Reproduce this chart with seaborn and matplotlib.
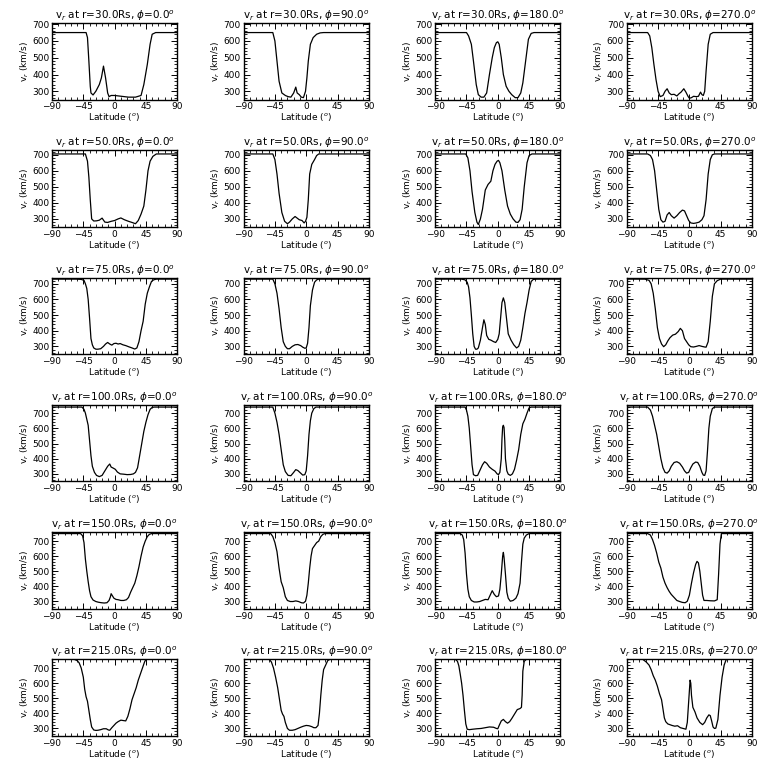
import numpy as np
import pandas as pd
import matplotlib
matplotlib.use('Agg')
import matplotlib.pyplot as plt
from matplotlib.ticker import MultipleLocator
import seaborn as sns

# ====================== DATA ======================
radii = [30.0, 50.0, 75.0, 100.0, 150.0, 215.0]
phis = [0.0, 90.0, 180.0, 270.0]
ytops = [707, 728, 740, 755, 760, 758]   # upper y limit of each row
ybottom = 250

# r = 30 Rs
lat_30_0 = [-90, -41, -39, -37, -35, -34, -31, -27, -22, -19, -16, -13, -10, -8, -5, 0, 10, 20, 30, 38, 42, 47, 51, 54, 59, 90]
v_30_0 = [650, 650, 620, 480, 330, 290, 278, 300, 340, 380, 450, 380, 290, 268, 275, 275, 270, 265, 265, 275, 340, 460, 580, 640, 650, 650]
lat_30_90 = [-90, -48, -45, -42, -39, -35, -30, -26, -22, -18, -15, -13, -10, -7, -4, -1, 1, 3, 6, 10, 15, 20, 25, 90]
v_30_90 = [650, 650, 600, 480, 360, 290, 275, 268, 265, 290, 325, 290, 280, 265, 262, 300, 380, 480, 580, 620, 640, 648, 650, 650]
lat_30_180 = [-90, -45, -42, -38, -35, -31, -28, -24, -20, -16, -12, -8, -5, -2, 0, 2, 5, 8, 12, 16, 20, 25, 29, 33, 36, 40, 44, 48, 52, 90]
v_30_180 = [650, 650, 630, 580, 480, 340, 280, 265, 265, 290, 400, 500, 560, 590, 595, 580, 500, 400, 330, 300, 280, 262, 262, 290, 350, 480, 610, 645, 650, 650]
lat_30_270 = [-90, -60, -57, -54, -51, -48, -45, -42, -38, -35, -32, -29, -26, -22, -18, -15, -12, -8, -5, -2, 0, 3, 6, 10, 13, 16, 18, 20, 22, 24, 27, 30, 34, 90]
v_30_270 = [650, 650, 630, 560, 460, 370, 300, 268, 275, 300, 315, 290, 280, 282, 272, 285, 295, 315, 295, 270, 258, 262, 270, 268, 270, 295, 280, 275, 300, 420, 580, 640, 650, 650]

# r = 50 Rs
lat_50_0 = [-90, -42, -39, -37, -35, -33, -30, -26, -22, -18, -14, -10, -5, 0, 5, 9, 14, 20, 25, 30, 34, 38, 42, 45, 48, 51, 55, 60, 90]
v_50_0 = [705, 705, 660, 560, 420, 300, 287, 288, 292, 305, 280, 278, 285, 290, 300, 306, 295, 285, 278, 270, 290, 330, 380, 480, 600, 660, 690, 705, 705]
lat_50_90 = [-90, -48, -45, -42, -39, -35, -31, -27, -24, -20, -16, -13, -10, -6, -3, -1, 1, 3, 5, 8, 12, 15, 18, 90]
v_50_90 = [705, 705, 670, 580, 460, 340, 285, 270, 280, 300, 315, 305, 295, 290, 275, 285, 310, 420, 580, 640, 670, 695, 705, 705]
lat_50_180 = [-90, -46, -43, -40, -37, -33, -30, -28, -25, -22, -18, -14, -10, -7, -4, -1, 1, 3, 6, 10, 14, 18, 22, 26, 29, 32, 35, 38, 42, 45, 49, 90]
v_50_180 = [705, 705, 680, 600, 470, 340, 280, 265, 300, 360, 480, 515, 535, 600, 640, 660, 665, 650, 600, 480, 380, 330, 300, 280, 278, 295, 360, 500, 650, 695, 705, 705]
lat_50_270 = [-90, -60, -56, -53, -50, -47, -44, -41, -38, -35, -32, -29, -26, -22, -18, -14, -10, -7, -4, -1, 2, 6, 10, 14, 18, 21, 24, 27, 30, 33, 36, 90]
v_50_270 = [705, 705, 695, 670, 600, 480, 360, 295, 280, 285, 325, 340, 320, 305, 320, 340, 355, 350, 320, 290, 275, 272, 275, 280, 295, 320, 420, 580, 670, 700, 705, 705]

# r = 75 Rs
lat_75_0 = [-90, -55, -48, -44, -42, -40, -38, -36, -34, -32, -30, -27, -24, -20, -16, -13, -10, -7, -4, -1, 2, 5, 8, 12, 16, 20, 25, 29, 32, 35, 38, 41, 44, 47, 50, 53, 56, 60, 90]
v_75_0 = [730, 730, 728, 722, 700, 670, 600, 480, 350, 310, 290, 282, 282, 285, 300, 315, 325, 315, 308, 318, 320, 315, 318, 310, 305, 298, 290, 283, 290, 330, 400, 460, 570, 640, 680, 715, 725, 730, 730]
lat_75_90 = [-90, -48, -45, -42, -39, -36, -33, -30, -27, -24, -20, -16, -12, -8, -5, -2, 0, 2, 4, 6, 9, 12, 15, 18, 90]
v_75_90 = [730, 730, 700, 640, 540, 420, 330, 300, 285, 285, 300, 310, 312, 305, 295, 288, 290, 320, 420, 560, 660, 710, 725, 730, 730]
lat_75_180 = [-90, -52, -47, -44, -42, -40, -38, -36, -34, -32, -30, -28, -25, -22, -20, -18, -16, -13, -10, -6, -3, 0, 2, 4, 6, 8, 10, 12, 15, 19, 23, 27, 30, 33, 36, 39, 42, 45, 48, 51, 56, 90]
v_75_180 = [730, 730, 725, 710, 680, 610, 500, 380, 300, 282, 282, 290, 340, 420, 470, 440, 370, 345, 340, 330, 325, 345, 380, 480, 580, 610, 580, 500, 380, 340, 310, 290, 300, 340, 420, 510, 580, 660, 715, 728, 730, 730]
lat_75_270 = [-90, -64, -58, -55, -52, -49, -46, -43, -40, -37, -34, -31, -28, -24, -20, -16, -13, -10, -7, -4, -1, 2, 6, 10, 14, 18, 22, 24, 27, 30, 33, 36, 40, 45, 90]
v_75_270 = [730, 730, 722, 700, 640, 540, 420, 350, 315, 298, 310, 335, 355, 372, 378, 395, 415, 400, 350, 330, 310, 298, 296, 300, 305, 300, 296, 295, 330, 460, 620, 700, 720, 730, 730]

# r = 100 Rs
lat_100_0 = [-90, -47, -44, -42, -40, -38, -36, -34, -32, -29, -26, -22, -18, -14, -10, -7, -5, -2, 1, 4, 8, 13, 18, 23, 27, 30, 33, 36, 39, 42, 45, 48, 51, 54, 57, 90]
v_100_0 = [740, 740, 725, 700, 660, 620, 520, 420, 350, 310, 290, 282, 290, 320, 350, 365, 345, 338, 330, 312, 300, 298, 295, 296, 300, 310, 340, 420, 500, 580, 640, 690, 725, 738, 740, 740]
lat_100_90 = [-90, -48, -45, -42, -39, -36, -33, -30, -26, -22, -18, -15, -12, -8, -5, -2, 0, 2, 4, 6, 8, 11, 14, 90]
v_100_90 = [740, 740, 700, 640, 560, 460, 360, 315, 290, 288, 310, 328, 322, 305, 292, 295, 320, 420, 560, 650, 700, 730, 740, 740]
lat_100_180 = [-90, -47, -45, -43, -41, -39, -37, -35, -32, -29, -26, -22, -19, -16, -12, -8, -4, -1, 1, 3, 5, 6, 7, 8, 9, 10, 11, 13, 15, 18, 21, 24, 27, 30, 33, 36, 39, 42, 45, 48, 90]
v_100_180 = [740, 740, 720, 680, 600, 480, 360, 295, 288, 290, 320, 360, 380, 370, 345, 330, 318, 300, 295, 310, 400, 530, 610, 620, 605, 520, 400, 320, 298, 290, 300, 330, 390, 460, 560, 630, 660, 700, 735, 740, 740]
lat_100_270 = [-90, -60, -56, -53, -50, -47, -44, -41, -38, -35, -32, -29, -26, -22, -18, -14, -10, -7, -4, -1, 2, 5, 9, 12, 15, 18, 20, 22, 24, 26, 28, 30, 33, 36, 90]
v_100_270 = [740, 740, 720, 680, 620, 560, 480, 400, 340, 310, 305, 320, 350, 375, 380, 370, 345, 320, 305, 310, 340, 365, 378, 375, 350, 310, 292, 290, 320, 450, 600, 680, 730, 740, 740]

# r = 150 Rs
lat_150_0 = [-90, -49, -46, -44, -42, -40, -38, -36, -34, -31, -27, -23, -19, -15, -11, -8, -6, -5, -3, -1, 2, 5, 9, 13, 17, 20, 23, 26, 29, 32, 35, 38, 41, 44, 47, 50, 53, 90]
v_150_0 = [750, 750, 735, 690, 580, 500, 430, 370, 330, 308, 298, 293, 290, 288, 290, 305, 330, 350, 335, 320, 312, 310, 305, 305, 310, 325, 360, 390, 420, 470, 530, 600, 660, 700, 730, 745, 750, 750]
lat_150_90 = [-90, -51, -48, -45, -42, -39, -36, -33, -30, -27, -23, -19, -15, -11, -7, -4, -1, 1, 3, 5, 7, 9, 12, 15, 18, 21, 24, 27, 90]
v_150_90 = [750, 750, 730, 690, 630, 520, 430, 390, 330, 305, 298, 298, 302, 298, 290, 288, 300, 340, 420, 520, 600, 650, 670, 690, 700, 730, 745, 750, 750]
lat_150_180 = [-90, -54, -51, -49, -47, -45, -43, -41, -38, -34, -30, -26, -22, -18, -14, -11, -8, -5, -2, 1, 3, 5, 7, 8, 9, 11, 13, 15, 18, 22, 26, 29, 32, 34, 36, 38, 41, 45, 90]
v_150_180 = [750, 750, 740, 710, 620, 480, 380, 330, 305, 295, 295, 298, 305, 312, 310, 340, 370, 345, 330, 335, 380, 480, 600, 625, 590, 480, 360, 320, 300, 305, 320, 350, 420, 560, 680, 720, 740, 750, 750]
lat_150_270 = [-90, -60, -56, -53, -50, -47, -44, -41, -38, -35, -32, -29, -26, -22, -18, -14, -10, -6, -3, 0, 3, 6, 9, 11, 13, 15, 17, 19, 21, 25, 30, 36, 40, 42, 44, 46, 90]
v_150_270 = [750, 750, 740, 710, 670, 620, 560, 520, 460, 420, 390, 365, 345, 325, 305, 298, 292, 290, 300, 340, 420, 490, 545, 565, 555, 500, 420, 340, 305, 305, 303, 302, 310, 480, 680, 750, 750]

# r = 215 Rs
lat_215_0 = [-90, -58, -54, -51, -48, -45, -43, -41, -39, -37, -35, -33, -30, -27, -24, -20, -16, -12, -9, -7, -4, -1, 2, 5, 9, 13, 16, 19, 22, 25, 28, 31, 34, 37, 40, 43, 45, 90]
v_215_0 = [758, 758, 750, 735, 700, 640, 560, 510, 480, 420, 360, 310, 290, 287, 288, 292, 298, 298, 290, 288, 305, 320, 335, 345, 355, 352, 350, 380, 430, 490, 530, 570, 620, 660, 700, 740, 758, 758]
lat_215_90 = [-90, -53, -50, -47, -44, -41, -38, -36, -34, -32, -30, -27, -24, -20, -16, -12, -8, -4, 0, 4, 8, 11, 14, 17, 19, 21, 23, 25, 28, 31, 34, 90]
v_215_90 = [758, 758, 740, 700, 640, 570, 480, 420, 395, 380, 340, 300, 288, 288, 292, 300, 308, 315, 320, 318, 312, 305, 305, 320, 400, 520, 620, 690, 720, 750, 758, 758]
lat_215_180 = [-90, -61, -58, -56, -54, -52, -50, -48, -46, -44, -41, -36, -30, -24, -18, -12, -6, -2, 0, 2, 5, 8, 11, 14, 17, 20, 24, 28, 32, 34, 35, 36, 38, 41, 90]
v_215_180 = [758, 758, 745, 715, 660, 600, 520, 420, 330, 295, 292, 295, 298, 300, 305, 310, 308, 300, 298, 320, 350, 360, 345, 335, 345, 365, 395, 425, 432, 440, 520, 680, 745, 758, 758]
lat_215_270 = [-90, -67, -62, -58, -55, -52, -49, -46, -43, -40, -38, -36, -34, -31, -28, -25, -21, -17, -13, -9, -5, -3, -1, 1, 2, 3, 5, 8, 11, 15, 19, 22, 25, 28, 30, 32, 34, 36, 38, 41, 44, 47, 50, 53, 90]
v_215_270 = [758, 758, 740, 720, 690, 650, 620, 580, 530, 490, 430, 370, 345, 330, 325, 320, 315, 318, 305, 300, 295, 340, 480, 620, 600, 520, 440, 410, 370, 340, 325, 340, 370, 390, 385, 350, 310, 300, 302, 360, 520, 640, 720, 758, 758]

# ====================== LONG TABLE ======================
series = {
    (30.0, 0.0): (lat_30_0, v_30_0), (30.0, 90.0): (lat_30_90, v_30_90),
    (30.0, 180.0): (lat_30_180, v_30_180), (30.0, 270.0): (lat_30_270, v_30_270),
    (50.0, 0.0): (lat_50_0, v_50_0), (50.0, 90.0): (lat_50_90, v_50_90),
    (50.0, 180.0): (lat_50_180, v_50_180), (50.0, 270.0): (lat_50_270, v_50_270),
    (75.0, 0.0): (lat_75_0, v_75_0), (75.0, 90.0): (lat_75_90, v_75_90),
    (75.0, 180.0): (lat_75_180, v_75_180), (75.0, 270.0): (lat_75_270, v_75_270),
    (100.0, 0.0): (lat_100_0, v_100_0), (100.0, 90.0): (lat_100_90, v_100_90),
    (100.0, 180.0): (lat_100_180, v_100_180), (100.0, 270.0): (lat_100_270, v_100_270),
    (150.0, 0.0): (lat_150_0, v_150_0), (150.0, 90.0): (lat_150_90, v_150_90),
    (150.0, 180.0): (lat_150_180, v_150_180), (150.0, 270.0): (lat_150_270, v_150_270),
    (215.0, 0.0): (lat_215_0, v_215_0), (215.0, 90.0): (lat_215_90, v_215_90),
    (215.0, 180.0): (lat_215_180, v_215_180), (215.0, 270.0): (lat_215_270, v_215_270),
}
frames = []
for (r, phi), (lat, v) in series.items():
    frames.append(pd.DataFrame({'r': r, 'phi': phi, 'lat': lat, 'v': v}))
df = pd.concat(frames, ignore_index=True)

# ====================== PLOT ======================
sns.set_style("ticks")
plt.rcParams['font.family'] = ['DejaVu Sans']
plt.rcParams['xtick.direction'] = 'in'
plt.rcParams['ytick.direction'] = 'in'
plt.rcParams['axes.linewidth'] = 1.0
for key in ['text.color', 'axes.labelcolor', 'xtick.color', 'ytick.color', 'axes.edgecolor']:
    plt.rcParams[key] = 'black'

fig, axes = plt.subplots(6, 4, figsize=(7.68, 7.68), dpi=100)
fig.subplots_adjust(left=52/768, right=752/768, top=1-23/768, bottom=1-736/768,
                    wspace=0.53, hspace=0.66)

for i, r in enumerate(radii):
    for j, phi in enumerate(phis):
        ax = axes[i, j]
        sub = df[(df.r == r) & (df.phi == phi)]
        sns.lineplot(data=sub, x='lat', y='v', ax=ax, color='black', lw=0.9,
                     estimator=None, sort=False)
        ax.set_xlim(-90, 90)
        ax.set_ylim(ybottom, ytops[i])
        ax.set_xticks([-90, -45, 0, 45, 90])
        ax.set_yticks([300, 400, 500, 600, 700])
        ax.xaxis.set_minor_locator(MultipleLocator(9))
        ax.yaxis.set_minor_locator(MultipleLocator(20))
        ax.tick_params(which='both', top=True, right=True, labelsize=6.5, pad=2)
        ax.tick_params(which='major', length=4, width=0.7)
        ax.tick_params(which='minor', length=2, width=0.6)
        ax.set_title(r'v$_r$ at r=%.1fRs, $\phi$=%.1f$^o$' % (r, phi), fontsize=7.5, pad=2)
        ax.set_xlabel(r'Latitude ($^o$)', fontsize=6.5, labelpad=0)
        ax.set_ylabel(r'v$_r$ (km/s)', fontsize=6.5, labelpad=1)

fig.savefig('out.png', dpi=100, facecolor='white')
